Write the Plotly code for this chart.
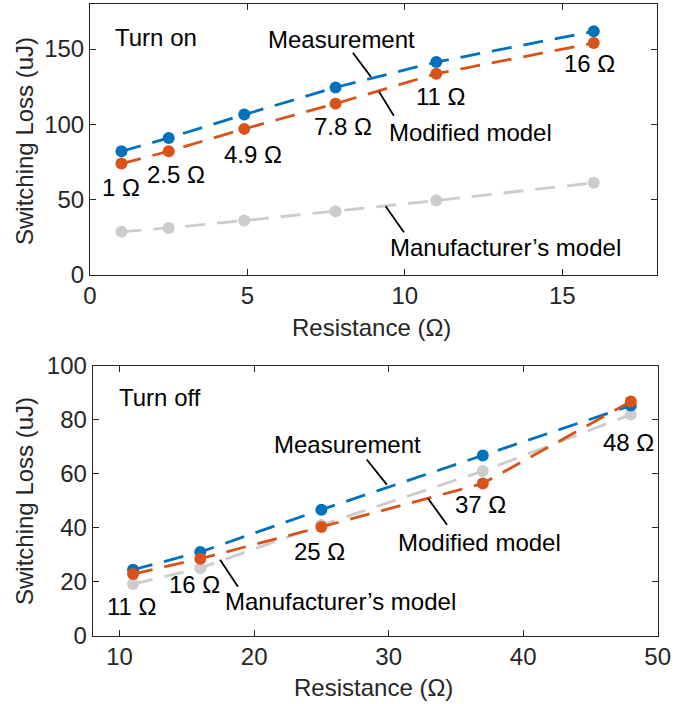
import plotly.graph_objects as go

# ---------------- data ----------------
on_r = [1, 2.5, 4.9, 7.8, 11, 16]
on_meas = [82, 90.9, 106.4, 124.5, 141.4, 161.8]
on_mod = [73.8, 82, 96.9, 113.7, 133.6, 154]
on_manu = [28.4, 31, 35.9, 42.1, 49.2, 61]

off_r = [11, 16, 25, 37, 48]
off_meas = [24.4, 31, 46.7, 66.8, 85.3]
off_mod = [22.8, 28.5, 40.3, 56.4, 86.8]
off_manu = [19.1, 25, 41, 61, 82]

on_labels = ["1 Ω", "2.5 Ω", "4.9 Ω", "7.8 Ω", "11 Ω", "16 Ω"]
off_labels = ["11 Ω", "16 Ω", "25 Ω", "37 Ω", "48 Ω"]

BLUE = "#0072BD"
ORANGE = "#D95319"
GREY = "#CCCCCC"
AX = "#262626"
FONT = "Liberation Sans, Arial, sans-serif"
FS = 24

fig = go.Figure()

def add_series(x, y, color, xa, ya):
    fig.add_trace(go.Scatter(
        x=x, y=y, mode="lines+markers", xaxis=xa, yaxis=ya,
        line=dict(color=color, width=2.8, dash="20px,12px"),
        marker=dict(color=color, size=12),
        showlegend=False, hoverinfo="skip"))

add_series(on_r, on_manu, GREY, "x", "y")
add_series(on_r, on_meas, BLUE, "x", "y")
add_series(on_r, on_mod, ORANGE, "x", "y")
add_series(off_r, off_manu, GREY, "x2", "y2")
add_series(off_r, off_meas, BLUE, "x2", "y2")
add_series(off_r, off_mod, ORANGE, "x2", "y2")

W, H = 697, 704

axis_common = dict(
    showline=True, linecolor=AX, linewidth=1, mirror="ticks",
    ticks="inside", ticklen=6, tickcolor=AX, tickwidth=1,
    showgrid=False, zeroline=False, automargin=False,
    tickfont=dict(family=FONT, size=FS, color=AX),
)

fig.update_layout(
    width=W, height=H,
    margin=dict(l=0, r=0, t=0, b=0),
    plot_bgcolor="white", paper_bgcolor="white",
    font=dict(family=FONT, size=FS, color="black"),
    xaxis=dict(domain=[90 / W, 656.7 / W], range=[0, 18], tickvals=[0, 5, 10, 15],
               anchor="y", **axis_common),
    yaxis=dict(domain=[1 - 274.5 / H, 1 - 4 / H], range=[0, 180], tickvals=[0, 50, 100, 150],
               anchor="x", **axis_common),
    xaxis2=dict(domain=[92.7 / W, 657.7 / W], range=[8, 50], tickvals=[10, 20, 30, 40, 50],
                anchor="y2", **axis_common),
    yaxis2=dict(domain=[1 - 635.5 / H, 1 - 366 / H], range=[0, 100], tickvals=[0, 20, 40, 60, 80, 100],
                anchor="x2", **axis_common),
)

anns = []
shapes = []

def txt(text, x, y, xr, yr, anchor="left"):
    anns.append(dict(text=text, x=x, y=y, xref=xr, yref=yr, showarrow=False,
                     xanchor=anchor, yanchor="middle",
                     font=dict(family=FONT, size=FS, color="black")))

def seg(x0, y0, x1, y1, xr, yr):
    shapes.append(dict(type="line", x0=x0, y0=y0, x1=x1, y1=y1, xref=xr, yref=yr,
                       line=dict(color="black", width=1.8)))

# top panel
txt("Turn on", 0.73, 157.6, "x", "y")
txt("Measurement", 5.60, 156.3, "x", "y")
seg(8.35, 147.6, 8.92, 131.6, "x", "y")
seg(9.18, 121.7, 9.65, 105.7, "x", "y")
txt("Modified model", 9.43, 94.4, "x", "y")
seg(9.39, 45.4, 9.97, 28.1, "x", "y")
txt("Manufacturer’s model", 9.46, 18, "x", "y")
on_pos = [(0.32, 57.8), (1.74, 66.5), (4.18, 79.8), (7.06, 98.4), (10.28, 118.4), (15.0, 140.3)]
for lab, (x, y) in zip(on_labels, on_pos):
    txt(lab, x, y, "x", "y")

# bottom panel
txt("Turn off", 9.81, 88.4, "x2", "y2")
txt("Measurement", 21.33, 70.9, "x2", "y2")
seg(28.37, 65.3, 29.86, 56.0, "x2", "y2")
seg(32.93, 50.8, 34.34, 41.1, "x2", "y2")
txt("Modified model", 30.55, 34.5, "x2", "y2")
seg(17.47, 28.1, 18.80, 18.1, "x2", "y2")
txt("Manufacturer’s model", 17.69, 12.5, "x2", "y2")
off_pos = [(8.91, 10.7), (13.52, 18.8), (22.82, 31.1), (34.79, 48.6), (45.79, 71.6)]
for lab, (x, y) in zip(off_labels, off_pos):
    txt(lab, x, y, "x2", "y2")

# axis titles as annotations (paper coords)
def title(text, xp, yp, angle=0):
    anns.append(dict(text=text, x=xp / W, y=1 - yp / H, xref="paper", yref="paper",
                     showarrow=False, xanchor="center", yanchor="middle", textangle=angle,
                     font=dict(family=FONT, size=FS, color=AX)))

title("Switching Loss (uJ)", 24, 141, -90)
title("Resistance (Ω)", 371.5, 328)
title("Switching Loss (uJ)", 24, 501, -90)
title("Resistance (Ω)", 373.5, 687)

fig.update_layout(annotations=anns, shapes=shapes)
fig.write_html("out.html")
